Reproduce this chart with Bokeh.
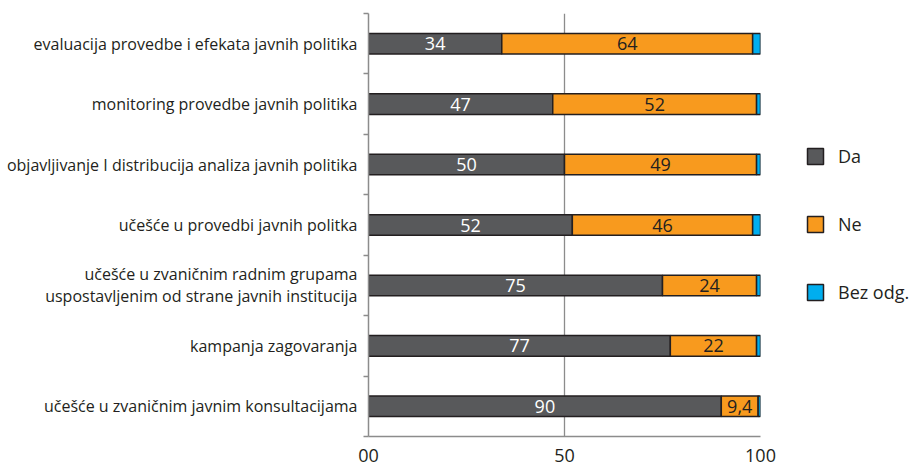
from bokeh.plotting import figure
from bokeh.layouts import row
from bokeh.models import (ColumnDataSource, Range1d, FixedTicker, Legend, LegendItem, LabelSet)
from bokeh.core.properties import value
from bokeh.embed import file_html
from bokeh.resources import INLINE

# ---- data (top to bottom) ----
categories = [
    "evaluacija provedbe i efekata javnih politika",
    "monitoring provedbe javnih politika",
    "objavljivanje I distribucija analiza javnih politika",
    "učešće u provedbi javnih politka",
    "učešće u zvaničnim radnim grupama\nuspostavljenim od strane javnih institucija",
    "kampanja zagovaranja",
    "učešće u zvaničnim javnim konsultacijama",
]
da = [34, 47, 50, 52, 75, 77, 90]
ne = [64, 52, 49, 46, 24, 22, 9.4]
bez = [2, 1, 1, 2, 1, 1, 0.6]
series_names = ["Da", "Ne", "Bez odg."]
x_ticks = [0, 50, 100]
x_tick_labels = ["00", "50", "100"]

n = len(categories)
ypos = [n - i - 0.5 for i in range(n)]
ne_l = da
ne_r = [a + b for a, b in zip(da, ne)]
bz_r = [a + b + c for a, b, c in zip(da, ne, bez)]

def fmt(v):
    return ("%g" % v).replace(".", ",")

src = ColumnDataSource(dict(
    y=ypos, da_l=[0] * n, da_r=da, ne_l=ne_l, ne_r=ne_r, bz_l=ne_r, bz_r=bz_r,
    da_mid=[a / 2 for a in da], ne_mid=[l + v / 2 for l, v in zip(ne_l, ne)],
    da_txt=[fmt(v) for v in da], ne_txt=[fmt(v) for v in ne],
))

FONT = "Open Sans"
DARK = "#58595b"
ORANGE = "#f89a1e"
BLUE = "#00aeef"
EDGE = "#231f20"
GREY = "#8c8c8c"
COLORS = [DARK, ORANGE, BLUE]
SEG = [("da_l", "da_r"), ("ne_l", "ne_r"), ("bz_l", "bz_r")]

p = figure(width=790, height=465, output_backend="svg", toolbar_location=None,
           x_range=Range1d(0, 100), y_range=Range1d(0, n),
           min_border_left=368, min_border_right=30, min_border_top=13, min_border_bottom=29)
p.outline_line_color = None

H = 0.34
for (l, r), col in zip(SEG, COLORS):
    p.hbar(y="y", left=l, right=r, height=H, source=src,
           fill_color=col, line_color=EDGE, line_width=1.5)

p.add_layout(LabelSet(x="da_mid", y="y", text="da_txt", source=src, text_color="white",
                      text_font=value(FONT), text_font_size="18px", text_align="center",
                      text_baseline="middle"))
p.add_layout(LabelSet(x="ne_mid", y="y", text="ne_txt", source=src, text_color=EDGE,
                      text_font=value(FONT), text_font_size="18px", text_align="center",
                      text_baseline="middle"))

# grid
p.ygrid.grid_line_color = None
p.xgrid.ticker = FixedTicker(ticks=[50, 100])
p.xgrid.grid_line_color = GREY
p.xgrid.grid_line_width = 1.3

# x axis
xa = p.xaxis[0]
xa.ticker = FixedTicker(ticks=x_ticks)
xa.major_label_overrides = {t: l for t, l in zip(x_ticks, x_tick_labels)}
xa.major_tick_out = 0
xa.major_tick_in = 0
xa.minor_tick_out = 0
xa.axis_line_color = GREY
xa.axis_line_width = 1.5
xa.major_label_text_font = FONT
xa.major_label_text_font_size = "18px"
xa.major_label_text_color = EDGE
xa.major_label_text_line_height = 0.6
xa.major_label_standoff = 12

# y axis
ya = p.yaxis[0]
ya.ticker = FixedTicker(ticks=ypos, minor_ticks=list(range(n + 1)))
ya.major_label_overrides = {y: c for y, c in zip(ypos, categories)}
ya.major_tick_out = 0
ya.major_tick_in = 0
ya.minor_tick_out = 5
ya.minor_tick_in = 0
ya.minor_tick_line_color = GREY
ya.minor_tick_line_width = 1.5
ya.axis_line_color = GREY
ya.axis_line_width = 1.5
ya.major_label_text_font = FONT
ya.major_label_text_font_size = "16px"
ya.major_label_text_color = EDGE
ya.major_label_text_line_height = 1.0
ya.major_label_standoff = 6
ya.major_label_text_align = "right"

# legend figure (its glyph renderers are hidden; only the legend is drawn)
p2 = figure(width=124, height=465, output_backend="svg", toolbar_location=None,
            x_range=Range1d(0, 1), y_range=Range1d(-10, -9),
            min_border_left=0, min_border_right=0, min_border_top=0, min_border_bottom=0)
p2.axis.visible = False
p2.grid.visible = False
p2.outline_line_color = None
items = []
for name, (l, r), col in zip(series_names, SEG, COLORS):
    rr = p2.hbar(y="y", left=l, right=r, height=H, source=src, fill_color=col,
                 line_color=EDGE, line_width=1.5)
    rr.visible = False
    items.append(LegendItem(label=name, renderers=[rr]))

legend = Legend(items=items, location=(15, 132), orientation="vertical",
                glyph_width=20, glyph_height=20, label_height=20, spacing=44,
                padding=0, margin=0, label_standoff=13,
                label_text_font=FONT, label_text_font_size="18px", label_text_color=EDGE,
                border_line_color=None, background_fill_alpha=0)
p2.add_layout(legend)

open("out.html", "w").write(file_html(row(p, p2), INLINE))
